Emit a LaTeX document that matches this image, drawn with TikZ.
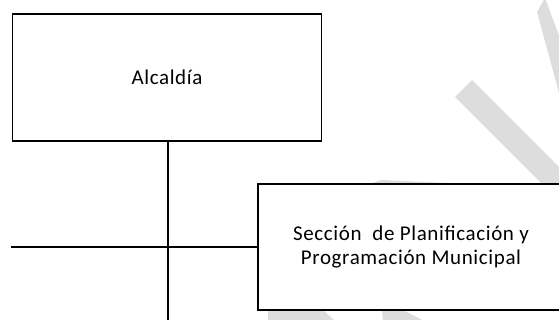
\documentclass[tikz,border=0pt]{standalone}
\usepackage{fontspec}
\setmainfont{Carlito}[LetterSpace=3]
\definecolor{wm}{RGB}{221,221,221}
\begin{document}
\begin{tikzpicture}[x=1pt,y=-1pt,
  box/.style={draw=black,line width=1.8pt,fill=white,inner sep=0pt,align=center,
    font=\fontsize{21}{24}\selectfont},
  link/.style={draw=black,line width=1.4pt},
  mark wm/.style={fill=wm,draw=none}]
\clip (0,0) rectangle (559,320);
\fill[white] (0,0) rectangle (559,320);
% watermark bands
\fill[mark wm] (537,12) -- (545,-2) -- (585,105) -- (565,115) -- cycle;
\fill[mark wm] (455,97) -- (472,80) -- (610,218) -- (593,235) -- cycle;
\fill[mark wm] (370,184) -- (381,180) -- (470,184) -- cycle;
\fill[mark wm] (268,309) -- (322,309) -- (336,322) -- (268,322) -- cycle;
\fill[mark wm] (382,309) -- (401,309) -- (426,322) -- (383,322) -- cycle;
% boxes
\node[box,minimum width=309pt,minimum height=127pt] (A) at (167,77.5) {Alcaldía};
\node[box,minimum width=306pt,minimum height=126pt] (B) at (411,247)
  {Sección~ de Planificación y\\Programación Municipal};
\coordinate (bot) at (168,322);
\coordinate (lft) at (10.5,247);
\draw[link] ([xshift=1pt]A.south) -- (bot);
\draw[link] (lft) -- (B.west);
\end{tikzpicture}
\end{document}
